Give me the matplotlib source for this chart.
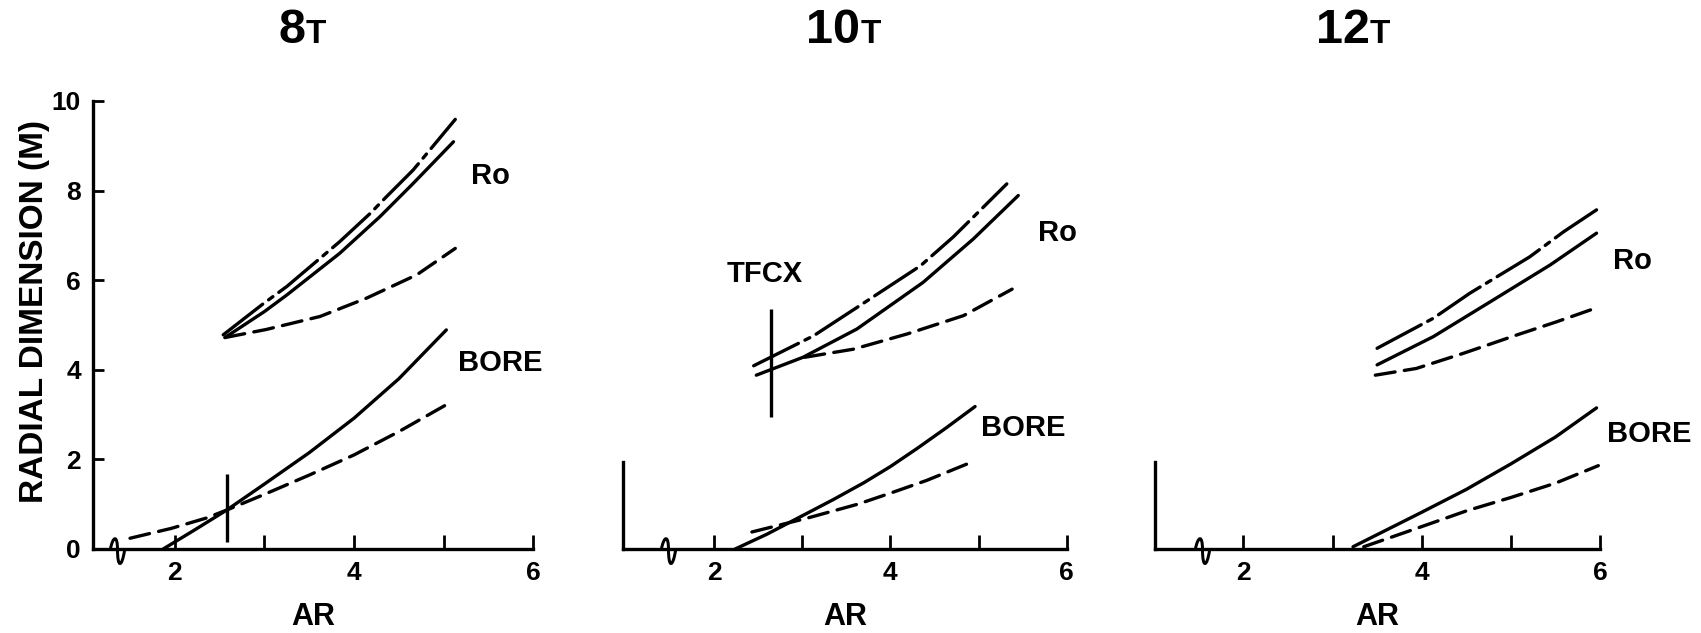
import matplotlib.pyplot as plt
from matplotlib.path import Path


plt.rcParams["font.family"] = ["Liberation Sans", "DejaVu Sans"]
plt.rcParams["font.weight"] = "bold"

FIELDS = ["8", "10", "12"]

# x axis start (AR), position of the axis break, top of the drawn y axis
X_START = [1.09, 0.965, 1.01]
X_BREAK = [1.35, 1.48, 1.54]
Y_AXIS_TOP = [10.0, 1.95, 1.95]

X_MAJOR = [2, 4, 6]
X_MINOR = [3, 5]
Y_TICKS = [0, 2, 4, 6, 8, 10]

# ---- 8 T ----
AR_8_RO_DASHDOT = [2.54, 2.99, 3.25, 3.84, 4.18, 4.36, 4.66, 5.13]
RO_8_DASHDOT = [4.78, 5.48, 5.86, 6.86, 7.49, 7.86, 8.46, 9.59]

AR_8_RO_SOLID = [2.56, 3.0, 3.25, 3.84, 4.29, 4.66, 5.11]
RO_8_SOLID = [4.72, 5.3, 5.67, 6.6, 7.42, 8.16, 9.09]

AR_8_RO_DASHED = [2.56, 3.02, 3.62, 4.14, 4.70, 5.13]
RO_8_DASHED = [4.72, 4.90, 5.19, 5.60, 6.12, 6.71]

AR_8_BORE_SOLID = [1.87, 2.2, 2.58, 3.0, 3.5, 4.0, 4.5, 5.03]
BORE_8_SOLID = [0.0, 0.4, 0.87, 1.45, 2.15, 2.92, 3.8, 4.89]

AR_8_BORE_DASHED = [1.5, 1.96, 2.35, 2.58, 3.0, 3.5, 4.0, 4.5, 5.1]
BORE_8_DASHED = [0.24, 0.46, 0.69, 0.87, 1.22, 1.65, 2.1, 2.62, 3.3]

# ---- 10 T ----
AR_10_RO_DASHDOT = [2.45, 3.13, 3.62, 4.34, 4.71, 5.32]
RO_10_DASHDOT = [4.09, 4.76, 5.39, 6.32, 6.96, 8.15]

AR_10_RO_SOLID = [2.48, 3.01, 3.62, 4.37, 4.94, 5.45]
RO_10_SOLID = [3.88, 4.28, 4.91, 5.95, 6.92, 7.89]

AR_10_RO_DASHED = [3.03, 3.58, 4.19, 4.83, 5.38]
RO_10_DASHED = [4.28, 4.46, 4.80, 5.21, 5.80]

AR_10_BORE_SOLID = [2.24, 2.6, 2.98, 3.35, 3.7, 4.0, 4.3, 4.63, 4.96]
BORE_10_SOLID = [0.0, 0.33, 0.72, 1.1, 1.48, 1.84, 2.24, 2.7, 3.18]

AR_10_BORE_DASHED = [2.43, 3.04, 3.63, 4.02, 4.41, 4.96]
BORE_10_DASHED = [0.38, 0.68, 1.0, 1.26, 1.53, 1.97]

# ---- 12 T ----
AR_12_RO_DASHDOT = [3.5, 4.13, 4.54, 5.21, 5.59, 5.96]
RO_12_DASHDOT = [4.48, 5.15, 5.71, 6.52, 7.08, 7.57]

AR_12_RO_SOLID = [3.5, 4.13, 4.77, 5.44, 5.96]
RO_12_SOLID = [4.11, 4.74, 5.52, 6.34, 7.05]

AR_12_RO_DASHED = [3.48, 3.94, 4.47, 5.07, 5.51, 5.94]
RO_12_DASHED = [3.88, 4.03, 4.37, 4.78, 5.07, 5.37]

AR_12_BORE_SOLID = [3.23, 3.6, 4.0, 4.5, 5.0, 5.5, 5.96]
BORE_12_SOLID = [0.05, 0.42, 0.82, 1.33, 1.9, 2.5, 3.15]

AR_12_BORE_DASHED = [3.35, 3.64, 4.0, 4.5, 5.0, 5.5, 5.98]
BORE_12_DASHED = [0.05, 0.25, 0.5, 0.85, 1.15, 1.47, 1.86]

# vertical design-point markers (8 T panel, TFCX in 10 T panel)
MARK_PANEL = [0, 1]
MARK_AR = [2.58, 2.65]
MARK_LO = [0.15, 2.94]
MARK_HI = [1.67, 5.36]

SOLID = "-"
DASHED = (0, (6, 2.8))
DASHDOT = (0, (15, 2.2, 1.6, 2.2))

panels = [
    [
        (AR_8_RO_DASHDOT, RO_8_DASHDOT, DASHDOT),
        (AR_8_RO_SOLID, RO_8_SOLID, SOLID),
        (AR_8_RO_DASHED, RO_8_DASHED, DASHED),
        (AR_8_BORE_SOLID, BORE_8_SOLID, SOLID),
        (AR_8_BORE_DASHED, BORE_8_DASHED, DASHED),
    ],
    [
        (AR_10_RO_DASHDOT, RO_10_DASHDOT, DASHDOT),
        (AR_10_RO_SOLID, RO_10_SOLID, SOLID),
        (AR_10_RO_DASHED, RO_10_DASHED, DASHED),
        (AR_10_BORE_SOLID, BORE_10_SOLID, SOLID),
        (AR_10_BORE_DASHED, BORE_10_DASHED, DASHED),
    ],
    [
        (AR_12_RO_DASHDOT, RO_12_DASHDOT, DASHDOT),
        (AR_12_RO_SOLID, RO_12_SOLID, SOLID),
        (AR_12_RO_DASHED, RO_12_DASHED, DASHED),
        (AR_12_BORE_SOLID, BORE_12_SOLID, SOLID),
        (AR_12_BORE_DASHED, BORE_12_DASHED, DASHED),
    ],
]

# layout (pixels of the 1701 x 633 canvas)
W, H = 1701, 633
AXES_LEFT_PX = [93.3, 622.7, 1155.0]
PX_PER_AR = [89.6, 88.2, 89.2]
Y0_PX, Y10_PX = 549, 101

TITLE_X = [3.46, 3.66, 3.42]
RO_POS = [(5.31, 8.33), (5.67, 7.05), (6.15, 6.43)]
BORE_POS = [(5.16, 4.16), (5.03, 2.70), (6.08, 2.57)]
TFCX_POS = (2.14, 6.14)

# axis break squiggle drawn as a marker
squiggle = Path(
    [(-0.5, 0.0), (-0.3, 1.0), (0.0, 1.0), (0.0, 0.0),
     (0.0, -1.3), (0.3, -1.3), (0.5, 0.0)],
    [Path.MOVETO, Path.CURVE4, Path.CURVE4, Path.CURVE4,
     Path.CURVE4, Path.CURVE4, Path.CURVE4]
)

fig = plt.figure(figsize=(W / 100, H / 100), dpi=100)

lw = 2.4

for i, series in enumerate(panels):

    width_px = (6.0 - X_START[i]) * PX_PER_AR[i]

    ax = fig.add_axes([
        AXES_LEFT_PX[i] / W,
        (H - Y0_PX) / H,
        width_px / W,
        (Y0_PX - Y10_PX) / H
    ])

    ax.set_xlim(X_START[i], 6.0)
    ax.set_ylim(0, 10)

    for xs, ys, ls in series:
        ax.plot(xs, ys, color="black", lw=lw, linestyle=ls,
                solid_capstyle="round", dash_capstyle="round",
                clip_on=False)

    for k, p in enumerate(MARK_PANEL):
        if p == i:
            ax.vlines(MARK_AR[k], MARK_LO[k], MARK_HI[k],
                      color="black", lw=lw)

    ax.plot([X_BREAK[i]], [0], marker=squiggle, markersize=27,
            color="black", mew=lw * 0.9, fillstyle="none",
            linestyle="none", clip_on=False)

    for side in ["top", "right"]:
        ax.spines[side].set_visible(False)

    ax.spines["bottom"].set_linewidth(lw)
    ax.spines["left"].set_linewidth(lw)
    ax.spines["left"].set_bounds(0, Y_AXIS_TOP[i])

    ax.set_xticks(X_MAJOR)
    ax.set_xticks(X_MINOR, minor=True)
    ax.set_xticklabels([str(v) for v in X_MAJOR])

    ax.tick_params(axis="x", which="both", direction="in",
                   length=10, width=2.0, labelsize=19, pad=9)

    if i == 0:
        ax.set_yticks(Y_TICKS)
        ax.set_yticklabels([str(v) for v in Y_TICKS])
        ax.tick_params(axis="y", direction="in", length=8, width=2.0,
                       labelsize=19, pad=9)
        ax.set_ylabel("RADIAL DIMENSION (M)", fontsize=24,
                      fontweight="bold")
        ax.yaxis.set_label_coords(-0.099, 0.53)
    else:
        ax.set_yticks([])

    ax.set_xlabel("AR", fontsize=22, fontweight="bold", labelpad=12)

    # panel title: field value with a small "T"
    ax.text(TITLE_X[i], 1.13, FIELDS[i],
            transform=ax.get_xaxis_transform(),
            ha="right", va="baseline", fontsize=35, fontweight="bold")
    ax.text(TITLE_X[i], 1.13, "T",
            transform=ax.get_xaxis_transform(),
            ha="left", va="baseline", fontsize=24, fontweight="bold")

    ax.text(RO_POS[i][0], RO_POS[i][1], "Ro", fontsize=21,
            fontweight="bold", ha="left", va="center")
    ax.text(BORE_POS[i][0], BORE_POS[i][1], "BORE", fontsize=21,
            fontweight="bold", ha="left", va="center")

    if i == 1:
        ax.text(TFCX_POS[0], TFCX_POS[1], "TFCX", fontsize=21,
                fontweight="bold", ha="left", va="center")

fig.savefig("out.png", dpi=100)
